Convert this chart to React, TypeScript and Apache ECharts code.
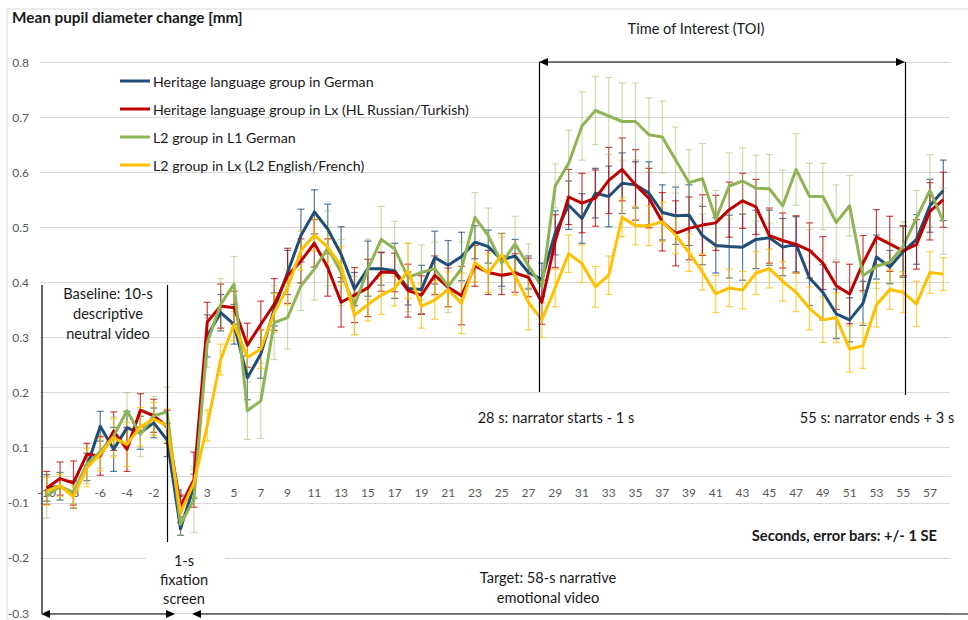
import React, { useEffect, useRef } from "react";
import * as echarts from "echarts";

// Seconds: 10-s baseline (-10..-1), then 58-s target video (1..58)
const baselineSeconds: string[] = ["-10", "-9", "-8", "-7", "-6", "-5", "-4", "-3", "-2", "-1"];
const targetSeconds: string[] = Array.from({ length: 58 }, (_, i) => String(i + 1));
const categories: string[] = baselineSeconds.concat(targetSeconds);

const seriesNames: string[] = [
  "Heritage language group in German",
  "Heritage language group in Lx (HL Russian/Turkish)",
  "L2 group in L1 German",
  "L2 group in Lx (L2 English/French)",
];
const seriesColors: string[] = ["#1F4E79", "#C00000", "#8FB453", "#FFC000"];
const errorColors: string[] = ["rgba(31,78,121,0.75)", "rgba(192,0,0,0.75)", "rgba(143,180,83,0.45)", "rgba(255,192,0,0.75)"];

// Values in the chart's vertical axis units (tick labels below 0.1 are shifted, see yTickLabel)
const hlGerman: number[] = [
  0.027, 0.030, 0.015, 0.065, 0.139, 0.097, 0.136, 0.127, 0.145, 0.114,
  -0.047, 0.030, 0.303, 0.345, 0.324, 0.227, 0.270, 0.351, 0.418, 0.485,
  0.528, 0.497, 0.451, 0.388, 0.425, 0.425, 0.421, 0.389, 0.387, 0.445,
  0.431, 0.447, 0.473, 0.465, 0.441, 0.448, 0.418, 0.405, 0.490, 0.540,
  0.516, 0.562, 0.556, 0.580, 0.577, 0.562, 0.527, 0.521, 0.522, 0.485,
  0.467, 0.465, 0.464, 0.478, 0.481, 0.464, 0.469, 0.408, 0.382, 0.343,
  0.332, 0.362, 0.446, 0.428, 0.456, 0.478, 0.539, 0.567,
];
const hlLx: number[] = [
  0.027, 0.044, 0.036, 0.088, 0.085, 0.130, 0.097, 0.168, 0.158, 0.138,
  -0.006, 0.042, 0.328, 0.357, 0.354, 0.286, 0.324, 0.360, 0.412, 0.439,
  0.471, 0.427, 0.364, 0.377, 0.390, 0.419, 0.418, 0.385, 0.377, 0.413,
  0.391, 0.376, 0.430, 0.418, 0.413, 0.417, 0.409, 0.364, 0.475, 0.555,
  0.544, 0.553, 0.585, 0.605, 0.577, 0.553, 0.510, 0.489, 0.498, 0.504,
  0.508, 0.532, 0.548, 0.537, 0.485, 0.476, 0.469, 0.458, 0.435, 0.394,
  0.379, 0.435, 0.482, 0.470, 0.457, 0.469, 0.529, 0.550,
];
const l2German: number[] = [
  0.012, 0.030, 0.019, 0.070, 0.093, 0.121, 0.167, 0.124, 0.158, 0.165,
  -0.039, 0.006, 0.291, 0.360, 0.397, 0.167, 0.185, 0.327, 0.336, 0.394,
  0.424, 0.462, 0.418, 0.358, 0.424, 0.478, 0.461, 0.409, 0.418, 0.425,
  0.393, 0.425, 0.518, 0.485, 0.435, 0.470, 0.430, 0.392, 0.575, 0.616,
  0.684, 0.712, 0.702, 0.692, 0.692, 0.668, 0.664, 0.622, 0.581, 0.588,
  0.515, 0.575, 0.584, 0.571, 0.570, 0.539, 0.605, 0.556, 0.556, 0.509,
  0.539, 0.412, 0.429, 0.437, 0.465, 0.517, 0.567, 0.511,
];
const l2Lx: number[] = [
  0.021, 0.031, 0.011, 0.064, 0.088, 0.118, 0.106, 0.138, 0.152, 0.140,
  -0.018, 0.036, 0.140, 0.260, 0.324, 0.264, 0.279, 0.345, 0.391, 0.458,
  0.486, 0.464, 0.430, 0.340, 0.360, 0.377, 0.389, 0.421, 0.357, 0.368,
  0.387, 0.362, 0.436, 0.417, 0.450, 0.412, 0.364, 0.332, 0.390, 0.452,
  0.434, 0.392, 0.413, 0.518, 0.503, 0.503, 0.510, 0.486, 0.454, 0.419,
  0.379, 0.390, 0.386, 0.417, 0.425, 0.402, 0.382, 0.353, 0.332, 0.336,
  0.279, 0.285, 0.359, 0.387, 0.382, 0.361, 0.418, 0.415,
];

// Standard errors (+/- 1 SE)
const hlGermanSE: number[] = [
  0.024, 0.025, 0.025, 0.025, 0.027, 0.04, 0.03, 0.03, 0.027, 0.03,
  0.012, 0.022, 0.038, 0.033, 0.036, 0.04, 0.044, 0.03, 0.04, 0.048,
  0.04, 0.045, 0.05, 0.03, 0.05, 0.03, 0.05, 0.03, 0.044, 0.048,
  0.045, 0.044, 0.03, 0.03, 0.048, 0.03, 0.03, 0.03, 0.04, 0.044,
  0.045, 0.045, 0.055, 0.055, 0.042, 0.057, 0.05, 0.052, 0.055, 0.053,
  0.05, 0.057, 0.06, 0.053, 0.05, 0.052, 0.05, 0.05, 0.05, 0.045,
  0.04, 0.04, 0.04, 0.03, 0.047, 0.045, 0.048, 0.055,
];
const hlLxSE: number[] = [
  0.03, 0.03, 0.04, 0.02, 0.035, 0.035, 0.04, 0.03, 0.03, 0.03,
  0.02, 0.05, 0.036, 0.04, 0.03, 0.04, 0.042, 0.047, 0.05, 0.04,
  0.043, 0.052, 0.045, 0.05, 0.052, 0.035, 0.035, 0.048, 0.035, 0.035,
  0.035, 0.053, 0.037, 0.04, 0.035, 0.035, 0.035, 0.04, 0.048, 0.05,
  0.054, 0.051, 0.06, 0.057, 0.064, 0.054, 0.053, 0.059, 0.057, 0.055,
  0.05, 0.05, 0.05, 0.05, 0.05, 0.05, 0.052, 0.05, 0.048, 0.043,
  0.054, 0.05, 0.05, 0.05, 0.045, 0.045, 0.052, 0.05,
];
const l2GermanSE: number[] = [
  0.04, 0.025, 0.02, 0.035, 0.03, 0.035, 0.033, 0.04, 0.035, 0.045,
  0.02, 0.06, 0.045, 0.047, 0.05, 0.052, 0.068, 0.067, 0.057, 0.045,
  0.056, 0.068, 0.06, 0.053, 0.055, 0.06, 0.05, 0.062, 0.05, 0.048,
  0.048, 0.048, 0.045, 0.05, 0.047, 0.05, 0.04, 0.03, 0.04, 0.06,
  0.062, 0.062, 0.07, 0.07, 0.07, 0.067, 0.065, 0.06, 0.06, 0.064,
  0.052, 0.06, 0.06, 0.06, 0.062, 0.065, 0.065, 0.06, 0.06, 0.068,
  0.055, 0.03, 0.04, 0.04, 0.045, 0.05, 0.065, 0.06,
];
const l2LxSE: number[] = [
  0.025, 0.02, 0.02, 0.035, 0.03, 0.035, 0.04, 0.035, 0.03, 0.03,
  0.02, 0.025, 0.028, 0.028, 0.03, 0.035, 0.035, 0.035, 0.032, 0.035,
  0.029, 0.035, 0.035, 0.035, 0.03, 0.035, 0.032, 0.05, 0.04, 0.035,
  0.032, 0.055, 0.035, 0.035, 0.038, 0.035, 0.05, 0.032, 0.034, 0.034,
  0.034, 0.037, 0.035, 0.035, 0.035, 0.036, 0.036, 0.034, 0.034, 0.033,
  0.034, 0.034, 0.034, 0.039, 0.035, 0.036, 0.035, 0.039, 0.041, 0.045,
  0.042, 0.041, 0.04, 0.036, 0.037, 0.041, 0.038, 0.03,
];

const seriesValues: number[][] = [hlGerman, hlLx, l2German, l2Lx];
const seriesErrors: number[][] = [hlGermanSE, hlLxSE, l2GermanSE, l2LxSE];

// The axis tick labels skip "0": below 0.1 the labels read -0.1, -0.2, -0.3
const yTickLabel = (v: number): string => (v > 0.05 ? v.toFixed(1) : (v - 0.1).toFixed(1));

const FONT = "Lato, 'Liberation Sans', sans-serif";
const INK = "#1a1a1a";

function txt(text: string, x: number, y: number, align: string, size = 14.6, weight = "normal") {
  return {
    type: "text",
    z: 110,
    silent: true,
    style: {
      text,
      x,
      y,
      align,
      textAlign: align,
      verticalAlign: "middle",
      textVerticalAlign: "middle",
      font: `${weight} ${size}px ${FONT}`,
      fill: INK,
    },
  };
}
function seg(x1: number, y1: number, x2: number, y2: number, color = "#000", w = 1.2) {
  return {
    type: "line",
    z: 100,
    silent: true,
    shape: { x1, y1, x2, y2 },
    style: { stroke: color, lineWidth: w },
  };
}
function head(tipX: number, y: number, dir: number) {
  // dir = -1 points left, +1 points right
  return {
    type: "polygon",
    z: 100,
    silent: true,
    shape: { points: [[tipX, y], [tipX - dir * 9, y - 4], [tipX - dir * 9, y + 4]] },
    style: { fill: "#000" },
  };
}

export default function App() {
  const ref = useRef<HTMLDivElement>(null);
  useEffect(() => {
    document.body.style.margin = "0";
    if (!ref.current) return;
    const chart = echarts.init(ref.current, undefined, { renderer: "svg" });

    const lineSeries = seriesNames.map((name, k) => ({
      name,
      type: "line",
      data: seriesValues[k],
      symbol: "none",
      showSymbol: false,
      z: 3,
      color: seriesColors[k],
      lineStyle: { width: 3, color: seriesColors[k], join: "round" },
    }));

    const errorSeries = seriesNames.map((name, k) => ({
      name: name + " SE",
      type: "custom",
      z: 2,
      silent: true,
      encode: { x: 0, y: [1, 2] },
      data: seriesValues[k].map((v, i) => [i, v - seriesErrors[k][i], v + seriesErrors[k][i]]),
      renderItem: (_params: any, api: any) => {
        const i = api.value(0);
        const lo = api.coord([i, api.value(1)]);
        const hi = api.coord([i, api.value(2)]);
        const st = { stroke: errorColors[k], lineWidth: 1.2 };
        const w = 3.5;
        return {
          type: "group",
          children: [
            { type: "line", shape: { x1: lo[0], y1: lo[1], x2: hi[0], y2: hi[1] }, style: st },
            { type: "line", shape: { x1: lo[0] - w, y1: lo[1], x2: lo[0] + w, y2: lo[1] }, style: st },
            { type: "line", shape: { x1: hi[0] - w, y1: hi[1], x2: hi[0] + w, y2: hi[1] }, style: st },
          ],
        };
      },
    }));

    const graphics: any[] = [
      // chart frame
      seg(7, 9, 968, 9, "#d9d9d9", 1),
      seg(7, 9, 7, 620, "#d9d9d9", 1),
      txt("Mean pupil diameter change [mm]", 12, 17, "left", 15.3, "bold"),
      // Time of interest
      txt("Time of Interest (TOI)", 696, 28, "center"),
      seg(546, 62, 898, 62),
      head(539, 62, -1),
      head(905, 62, 1),
      seg(539.5, 62, 539.5, 392),
      seg(905.5, 62, 905.5, 395),
      txt("28 s: narrator starts - 1 s", 556, 417, "center"),
      txt("55 s: narrator ends + 3 s", 877, 417, "center"),
      // baseline
      seg(42, 285, 42, 613),
      seg(167.5, 285, 167.5, 542),
      txt("Baseline: 10-s", 108, 293, "center"),
      txt("descriptive", 108, 313, "center"),
      txt("neutral video", 108, 333, "center"),
      // fixation
      { type: "rect", z: 95, silent: true, shape: { x: 147, y: 549, width: 78, height: 59 }, style: { fill: "#fff" } },
      txt("1-s", 184, 560, "center"),
      txt("fixation", 184, 579, "center"),
      txt("screen", 184, 598, "center"),
      // target
      txt("Target: 58-s narrative", 548, 577, "center"),
      txt("emotional video", 548, 597, "center"),
      txt("Seconds, error bars: +/- 1 SE", 937, 535, "right", 14.7, "bold"),
      // bottom arrows
      seg(48, 614, 168, 614),
      head(41, 614, -1),
      head(175, 614, 1),
      seg(199, 614, 968, 614),
      head(192, 614, -1),
    ];

    chart.setOption({
      animation: false,
      backgroundColor: "#ffffff",
      textStyle: { fontFamily: FONT },
      grid: { left: 40, right: 18, top: 62, bottom: 7, containLabel: false },
      legend: {
        data: seriesNames,
        orient: "vertical",
        left: 120,
        top: 72,
        itemWidth: 30,
        itemHeight: 3,
        itemGap: 10,
        icon: "rect",
        padding: 0,
        selectedMode: false,
        textStyle: { fontSize: 14.2, fontFamily: FONT, color: INK, lineHeight: 18, padding: [0, 0, 0, -2] },
      },
      xAxis: {
        type: "category",
        data: categories,
        boundaryGap: true,
        position: "bottom",
        offset: -137,
        axisLine: { show: true, onZero: false, lineStyle: { color: "#d9d9d9", width: 1 } },
        axisTick: { show: false },
        axisLabel: { interval: 1, color: "#595959", fontSize: 12, fontFamily: FONT, margin: 10 },
        splitLine: { show: false },
      },
      yAxis: {
        type: "value",
        min: -0.2,
        max: 0.8,
        interval: 0.1,
        axisLine: { show: false },
        axisTick: { show: false },
        splitLine: { show: true, lineStyle: { color: "#d9d9d9", width: 1 } },
        axisLabel: { formatter: yTickLabel, color: "#595959", fontSize: 12, fontFamily: FONT, margin: 11 },
      },
      series: [...errorSeries, ...lineSeries],
      graphic: { elements: graphics },
    });
    return () => chart.dispose();
  }, []);
  return <div ref={ref} style={{ width: 968, height: 620 }} />;
}
